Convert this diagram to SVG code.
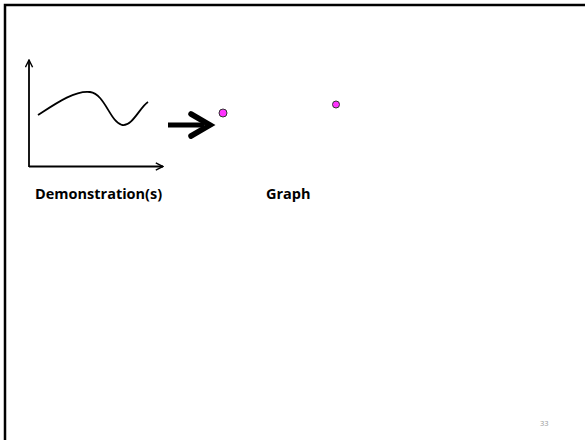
<svg xmlns="http://www.w3.org/2000/svg" width="585" height="440" viewBox="0 0 585 440">
  <style>
    .label { font-family: "Open Sans", "Liberation Sans", sans-serif; font-weight: bold; font-size: 14.5px; fill: #000; }
    .axis { stroke: #000; stroke-width: 1.8; fill: none; }
    .node { fill: #ff33ff; stroke: #333; stroke-width: 1; }
  </style>
  <defs>
    <marker id="axisHead" viewBox="0 0 10 10" refX="9" refY="5" markerWidth="5" markerHeight="5" markerUnits="strokeWidth" orient="auto">
      <path d="M1,1 L9,5 L1,9" fill="none" stroke="#000" stroke-width="1.6"/>
    </marker>
  </defs>
  <rect width="585" height="440" fill="#fff"/>
  <!-- slide frame (runs off the right and bottom edges) -->
  <rect x="5" y="5" width="600" height="460" fill="none" stroke="#000" stroke-width="2.5"/>

  <g id="demonstration">
    <path class="axis" d="M29,167 V60" marker-end="url(#axisHead)"/>
    <path class="axis" d="M29,166.5 H163" marker-end="url(#axisHead)"/>
    <path d="M38,115 C55,104 75,90 90,92 C105,94 110,122 122,125 C132,127 140,107 148,102" fill="none" stroke="#000" stroke-width="1.8"/>
    <text class="label" x="35" y="199">Demonstration(s)</text>
  </g>

  <g id="connectors">
    <path d="M168,125 H204" stroke="#000" stroke-width="5" fill="none"/>
    <path d="M191,114 L210,125 L191,136" stroke="#000" stroke-width="5.5" fill="none" stroke-linejoin="miter" stroke-linecap="round"/>
  </g>

  <g id="graph">
    <circle id="node-a" class="node" cx="223" cy="113" r="4"/>
    <circle id="node-b" class="node" cx="336" cy="104.5" r="3.5"/>
    <text class="label" x="266" y="199">Graph</text>
  </g>

  <text x="540" y="426" font-family="Open Sans, Liberation Sans, sans-serif" font-size="7.5" fill="#999">33</text>
</svg>
